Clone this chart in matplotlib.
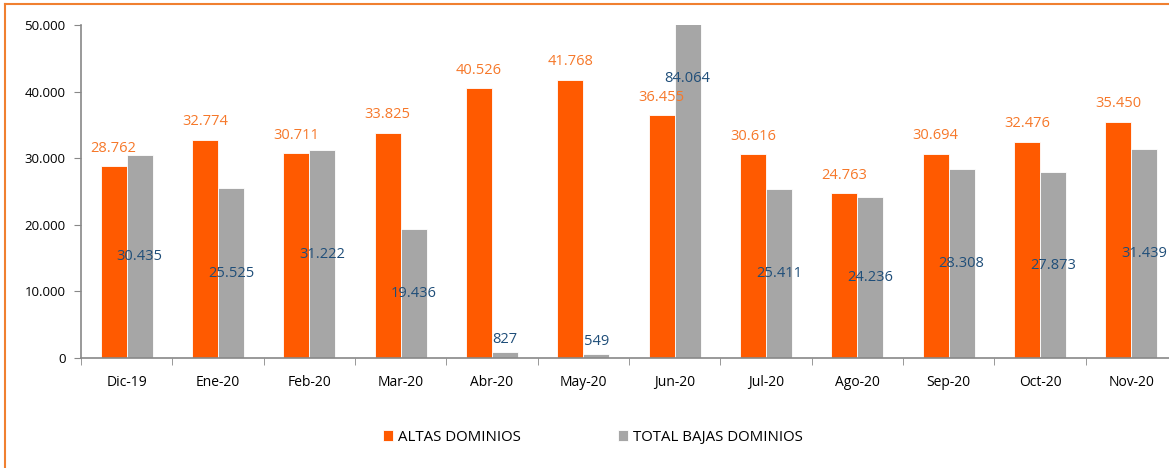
import matplotlib.pyplot as plt
import numpy as np
from matplotlib.lines import Line2D
from matplotlib.ticker import FuncFormatter

plt.rcParams['font.family'] = ['Open Sans', 'DejaVu Sans']

meses = ['Dic-19', 'Ene-20', 'Feb-20', 'Mar-20', 'Abr-20', 'May-20',
         'Jun-20', 'Jul-20', 'Ago-20', 'Sep-20', 'Oct-20', 'Nov-20']
altas = [28762, 32774, 30711, 33825, 40526, 41768,
         36455, 30616, 24763, 30694, 32476, 35450]
bajas = [30435, 25525, 31222, 19436, 827, 549,
         84064, 25411, 24236, 28308, 27873, 31439]

naranja = '#FF5A00'
gris = '#A6A6A6'
txt_naranja = '#F6782A'
txt_azul = '#1F4E79'

fig = plt.figure(figsize=(11.69, 4.68), dpi=100)
ax = fig.add_axes([81/1169, 110/468, 1096/1169, 333/468])

x = np.arange(len(meses))
w = 0.285
ax.bar(x - w/2, altas, w, color=naranja, edgecolor='white', linewidth=0.6, label='ALTAS DOMINIOS')
ax.bar(x + w/2, bajas, w, color=gris, edgecolor='white', linewidth=0.6, label='TOTAL BAJAS DOMINIOS')

fmt = lambda v: f'{v:,.0f}'.replace(',', '.')
for i in range(len(meses)):
    ax.annotate(fmt(altas[i]), (x[i] - w/2, altas[i]), xytext=(0, 13), textcoords='offset points',
                ha='center', va='center', color=txt_naranja, fontsize=10.5)
    if bajas[i] > 5000:
        ypos = bajas[i] / 2
    else:
        ypos = bajas[i] + 2000
    ax.text(x[i] + w/2, ypos, fmt(bajas[i]), ha='center', va='center',
            color=txt_azul, fontsize=10.5, clip_on=False)

ax.set_xlim(-0.5, len(meses) - 0.5)
ax.set_ylim(0, 50000)
ax.set_yticks(np.arange(0, 50001, 10000))
ax.yaxis.set_major_formatter(FuncFormatter(lambda v, p: fmt(v)))
ax.set_xticks(x)
ax.set_xticklabels(meses)
ax.set_xticks(np.arange(-0.5, len(meses)), minor=True)
ax.tick_params(axis='x', which='major', length=0, pad=12, labelsize=10)
ax.tick_params(axis='x', which='minor', length=5, color='#888888', direction='out')
ax.tick_params(axis='y', length=5, color='#888888', labelsize=9.5, pad=6)
for s in ['top', 'right']:
    ax.spines[s].set_visible(False)
for s in ['left', 'bottom']:
    ax.spines[s].set_color('#888888')
    ax.spines[s].set_linewidth(1.2)

fig.legend(loc='center', bbox_to_anchor=(0.507, 0.066), ncol=2, frameon=False,
           fontsize=10.8, handlelength=0.7, handleheight=0.7, handletextpad=0.3,
           columnspacing=6.5)

# marco naranja
fig.add_artist(Line2D([5/1169, 1.0], [1 - 4/468, 1 - 4/468], color='#F08030', lw=1.5))
fig.add_artist(Line2D([5/1169, 5/1169], [0, 1 - 4/468], color='#F08030', lw=1.5))

fig.savefig('out.png', dpi=100)
